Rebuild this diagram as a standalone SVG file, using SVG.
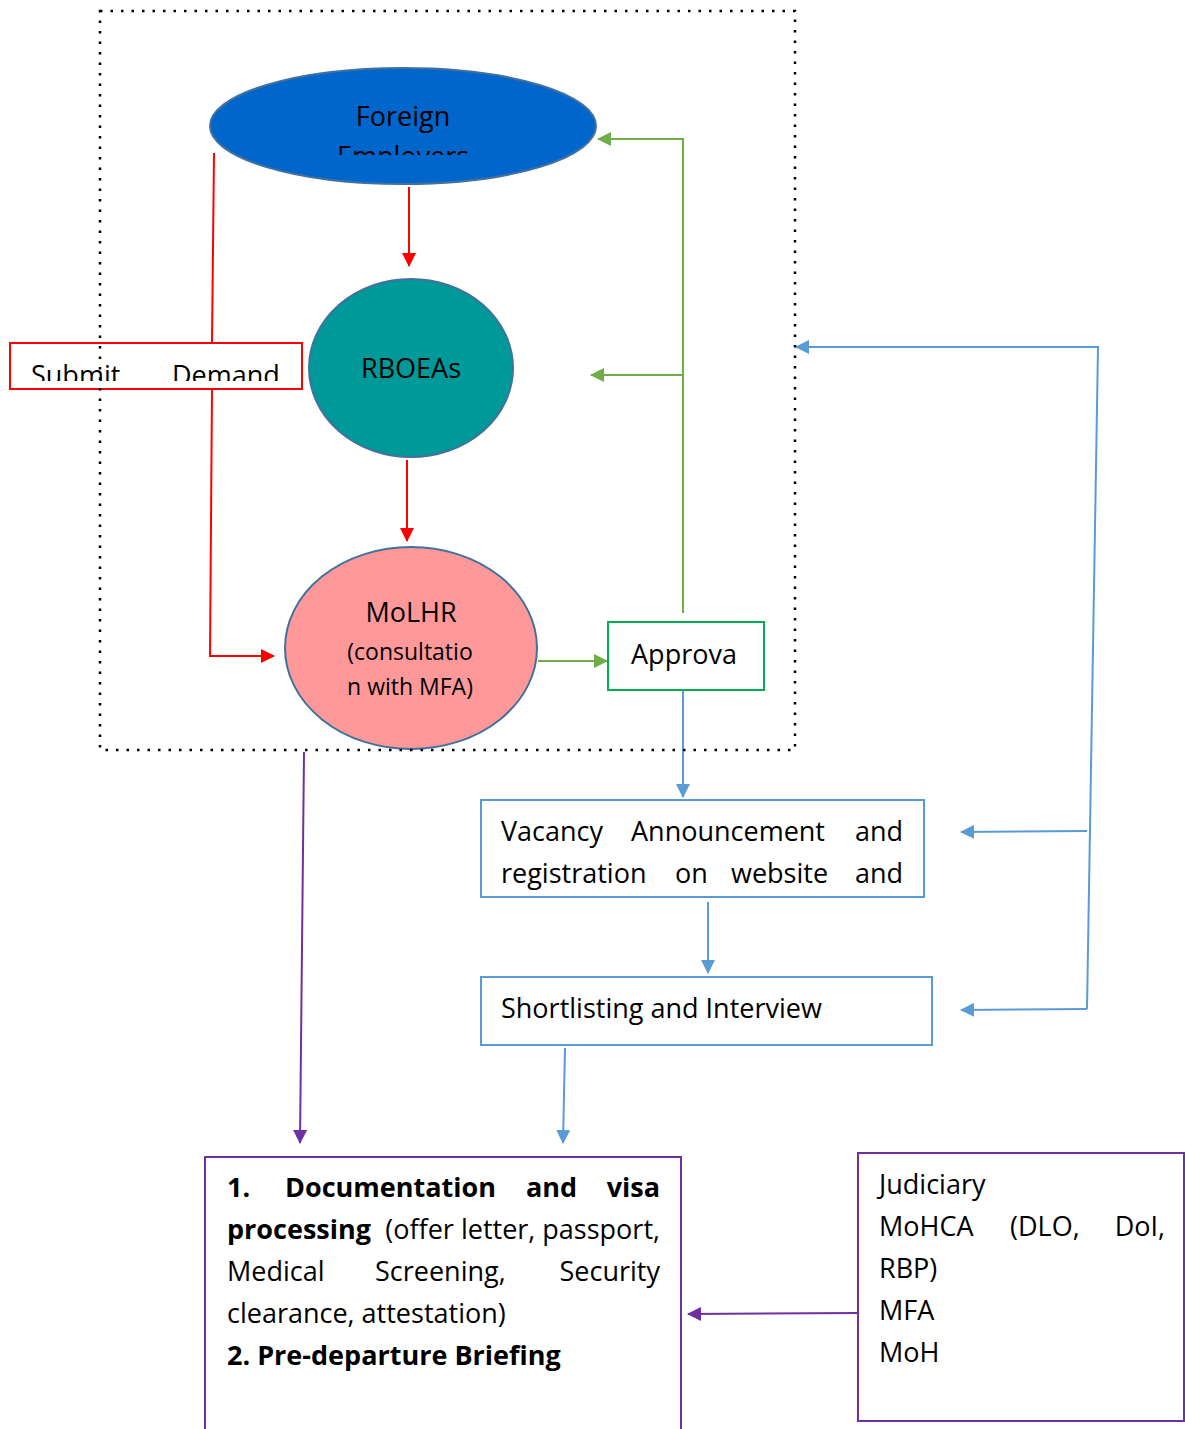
<svg xmlns="http://www.w3.org/2000/svg" width="1185" height="1429" viewBox="0 0 1185 1429">
<style>
text{font-family:"Open Sans",Lato,"Liberation Sans",sans-serif;fill:#000;font-size:27px}
.sm{font-size:23px}
.b{font-weight:bold}
.red{stroke:#FF0000;stroke-width:2;fill:none}
.grn{stroke:#70AD47;stroke-width:2;fill:none}
.blu{stroke:#5B9BD5;stroke-width:2;fill:none}
.pur{stroke:#7030A0;stroke-width:2;fill:none}
.ell{stroke:#41719C;stroke-width:2}
</style>
<defs>
<marker id="aR" markerWidth="14" markerHeight="14" refX="13" refY="7" orient="auto" markerUnits="userSpaceOnUse" viewBox="0 0 14 14"><path d="M0,0 L14,7 L0,14 z" fill="#FF0000"/></marker>
<marker id="aG" markerWidth="14" markerHeight="14" refX="13" refY="7" orient="auto" markerUnits="userSpaceOnUse" viewBox="0 0 14 14"><path d="M0,0 L14,7 L0,14 z" fill="#70AD47"/></marker>
<marker id="aB" markerWidth="14" markerHeight="14" refX="13" refY="7" orient="auto" markerUnits="userSpaceOnUse" viewBox="0 0 14 14"><path d="M0,0 L14,7 L0,14 z" fill="#5B9BD5"/></marker>
<marker id="aP" markerWidth="14" markerHeight="14" refX="13" refY="7" orient="auto" markerUnits="userSpaceOnUse" viewBox="0 0 14 14"><path d="M0,0 L14,7 L0,14 z" fill="#7030A0"/></marker>
<clipPath id="cFE"><rect x="200" y="60" width="400" height="95"/></clipPath>
<clipPath id="cSD"><rect x="10" y="343" width="292" height="38"/></clipPath>
</defs>

<g id="connectors">
<polyline class="red" points="214,153 212,343"/>
<polyline class="red" points="212,389 210,656 274,656" marker-end="url(#aR)"/>
<line class="red" x1="409" y1="187" x2="409" y2="266" marker-end="url(#aR)"/>
<line class="red" x1="407" y1="460" x2="407" y2="541" marker-end="url(#aR)"/>
<line class="grn" x1="538" y1="661" x2="607" y2="661" marker-end="url(#aG)"/>
<polyline class="grn" points="683,613 683,139 598,139" marker-end="url(#aG)"/>
<line class="grn" x1="683" y1="375" x2="591" y2="375" marker-end="url(#aG)"/>
<line class="blu" x1="683" y1="691" x2="683" y2="797" marker-end="url(#aB)"/>
<line class="blu" x1="708" y1="902" x2="708" y2="973" marker-end="url(#aB)"/>
<line class="blu" x1="565" y1="1048" x2="563" y2="1143" marker-end="url(#aB)"/>
<polyline class="blu" points="1087,1009 1098,347 796,347" marker-end="url(#aB)"/>
<line class="blu" x1="1087" y1="831" x2="961" y2="832" marker-end="url(#aB)"/>
<line class="blu" x1="1087" y1="1009" x2="961" y2="1010" marker-end="url(#aB)"/>
<line class="pur" x1="304" y1="752" x2="300" y2="1143" marker-end="url(#aP)"/>
<line class="pur" x1="858" y1="1313" x2="688" y2="1314" marker-end="url(#aP)"/>
</g>

<g id="submit-demand">
<rect x="10" y="343" width="292" height="46" fill="#fff" stroke="#FF0000" stroke-width="2"/>
<g clip-path="url(#cSD)">
<text x="31" y="385">Submit</text>
<text x="172" y="385">Demand</text>
</g>
</g>

<g id="foreign-employers">
<ellipse class="ell" cx="403" cy="126" rx="193" ry="58" fill="#0066CC"/>
<g clip-path="url(#cFE)">
<text x="403" y="126" text-anchor="middle">Foreign</text>
<text x="403" y="166" text-anchor="middle">Employers</text>
</g>
</g>

<g id="rboeas">
<ellipse class="ell" cx="411" cy="368" rx="102" ry="89" fill="#009999"/>
<text x="411" y="378" text-anchor="middle">RBOEAs</text>
</g>

<g id="molhr">
<ellipse class="ell" cx="411" cy="648" rx="126" ry="101" fill="#FF9999"/>
<text x="411" y="622" text-anchor="middle">MoLHR</text>
<text class="sm" x="410" y="660" text-anchor="middle">(consultatio</text>
<text class="sm" x="410" y="695" text-anchor="middle">n with MFA)</text>
</g>

<rect id="boundary" x="100" y="11" width="695" height="739" fill="none" stroke="#000" stroke-width="2.5" stroke-dasharray="2.5 8"/>

<g id="approval">
<rect x="608" y="622" width="156" height="68" fill="#fff" stroke="#00B050" stroke-width="2"/>
<text x="684" y="664" text-anchor="middle">Approva</text>
</g>

<g id="vacancy">
<rect x="481" y="800" width="443" height="97" fill="#fff" stroke="#5B9BD5" stroke-width="2"/>
<text x="501" y="841">Vacancy</text>
<text x="631" y="841">Announcement</text>
<text x="903" y="841" text-anchor="end">and</text>
<text x="501" y="883">registration</text>
<text x="675" y="883">on</text>
<text x="731" y="883">website</text>
<text x="903" y="883" text-anchor="end">and</text>
</g>

<g id="shortlisting">
<rect x="481" y="977" width="451" height="68" fill="#fff" stroke="#5B9BD5" stroke-width="2"/>
<text x="501" y="1018">Shortlisting and Interview</text>
</g>

<g id="documentation">
<rect x="205" y="1157" width="476" height="290" fill="#fff" stroke="#7030A0" stroke-width="2"/>
<text class="b" x="227" y="1197">1.</text>
<text class="b" x="285" y="1197">Documentation</text>
<text class="b" x="526" y="1197">and</text>
<text class="b" x="660" y="1197" text-anchor="end">visa</text>
<text class="b" x="227" y="1239">processing</text>
<text x="660" y="1239" text-anchor="end">(offer letter, passport,</text>
<text x="227" y="1281">Medical</text>
<text x="375" y="1281">Screening,</text>
<text x="660" y="1281" text-anchor="end">Security</text>
<text x="227" y="1323">clearance, attestation)</text>
<text class="b" x="227" y="1365">2. Pre-departure Briefing</text>
</g>

<g id="agencies">
<rect x="858" y="1153" width="326" height="268" fill="#fff" stroke="#7030A0" stroke-width="2"/>
<text x="879" y="1194">Judiciary</text>
<text x="879" y="1236">MoHCA</text>
<text x="1010" y="1236">(DLO,</text>
<text x="1165" y="1236" text-anchor="end">DoI,</text>
<text x="879" y="1278">RBP)</text>
<text x="879" y="1320">MFA</text>
<text x="879" y="1362">MoH</text>
</g>
</svg>
